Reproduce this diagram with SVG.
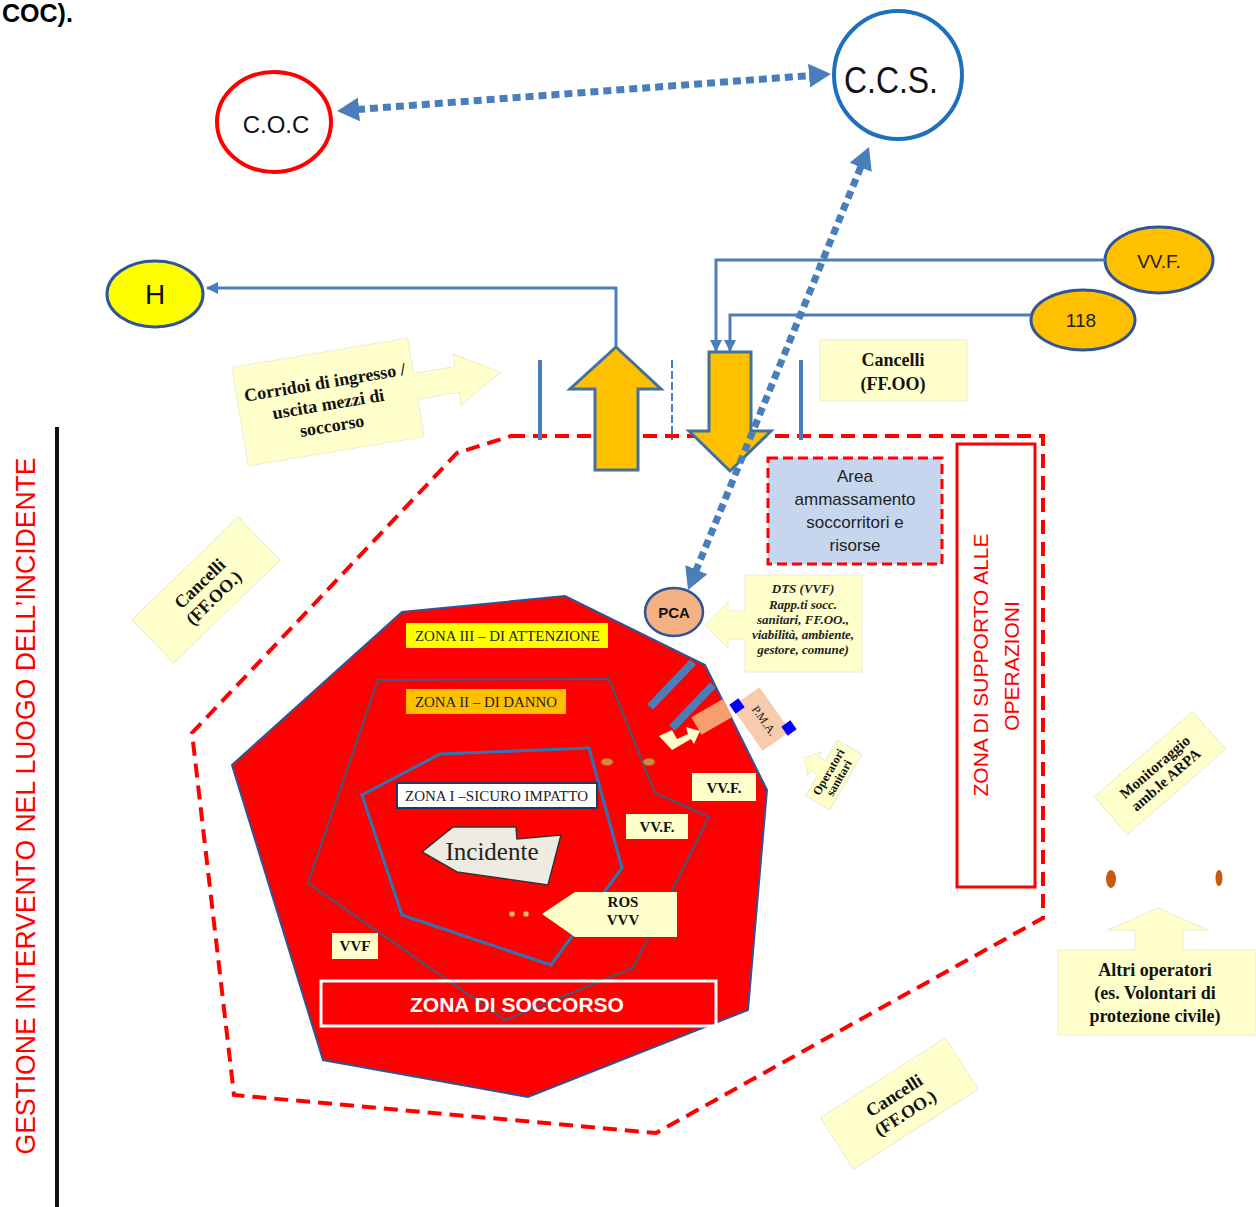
<svg xmlns="http://www.w3.org/2000/svg" width="1256" height="1207" viewBox="0 0 1256 1207">
<defs>
<style>
.sans{font-family:"Liberation Sans",Arial,sans-serif}
.serif{font-family:"Liberation Serif","Times New Roman",serif}
.pale{fill:#ffffcc;stroke:#ecebd0;stroke-width:1}
.lbl{font-family:"Liberation Serif","Times New Roman",serif;font-weight:bold;fill:#111;text-anchor:middle}
.zl{font-family:"Liberation Serif","Times New Roman",serif;font-size:14px;fill:#222}
.dot{fill:none;stroke:#4a7ebb;stroke-width:7;stroke-dasharray:8 5}
.wire{fill:none;stroke:#4a7ebb;stroke-width:3}
.bigarrow{fill:#ffc000;stroke:#41719c;stroke-width:3}
.node{stroke:#2f5597;stroke-width:3}
</style>
<marker id="dh" markerUnits="userSpaceOnUse" markerWidth="24" markerHeight="26" refX="2" refY="12" orient="auto-start-reverse"><path d="M0,0 L22,12 L0,24 z" fill="#4a7ebb"/></marker>
<marker id="sh" markerUnits="userSpaceOnUse" markerWidth="14" markerHeight="14" refX="11" refY="6" orient="auto"><path d="M0,0 L12,6 L0,12 z" fill="#4a7ebb"/></marker>
</defs>
<rect width="1256" height="1207" fill="#fff"/>

<text class="sans" x="2" y="22" font-size="25" font-weight="bold" fill="#000">COC).</text>

<g id="titolo-verticale">
<line x1="57" y1="427" x2="57" y2="1207" stroke="#111" stroke-width="4"/>
<text class="sans" transform="translate(35,806) rotate(-90)" text-anchor="middle" font-size="27" fill="#ff0000" textLength="697" lengthAdjust="spacingAndGlyphs">GESTIONE INTERVENTO NEL LUOGO DELL’INCIDENTE</text>
</g>

<g id="perimetro">
<polygon points="511,436 1043,436 1043,918 656,1133 234,1095 192,733 457,453" fill="none" stroke="#ff0000" stroke-width="4" stroke-dasharray="14 8"/>
</g>

<g id="zona-supporto">
<rect x="957" y="444" width="78" height="443" fill="#fff" stroke="#ff0000" stroke-width="3"/>
<text class="sans" transform="translate(988,665) rotate(-90)" text-anchor="middle" font-size="21" fill="#ff0000">ZONA DI SUPPORTO ALLE</text>
<text class="sans" transform="translate(1019,666) rotate(-90)" text-anchor="middle" font-size="21" fill="#ff0000">OPERAZIONI</text>
</g>

<g id="area-ammassamento">
<rect x="768" y="458" width="174" height="106" fill="#c6d6ee" stroke="#ff0000" stroke-width="3" stroke-dasharray="10 5"/>
<g class="sans" font-size="17" fill="#222" text-anchor="middle">
<text x="855" y="482">Area</text>
<text x="855" y="505">ammassamento</text>
<text x="855" y="528">soccorritori e</text>
<text x="855" y="551">risorse</text>
</g>
</g>

<g id="varchi">
<line x1="540" y1="360" x2="540" y2="440" stroke="#4a7ebb" stroke-width="4"/>
<line x1="801" y1="360" x2="801" y2="440" stroke="#4a7ebb" stroke-width="4"/>
<line x1="672" y1="360" x2="672" y2="440" stroke="#4a7ebb" stroke-width="2" stroke-dasharray="8 3"/>
</g>

<g id="freccia-uscita">
<polygon class="bigarrow" points="616,347 661,389 638,389 638,470 595,470 595,389 570,389"/>
</g>
<g id="freccia-ingresso">
<polygon class="bigarrow" points="709,352 751,352 751,431 771,431 730,471 689,431 709,431"/>
</g>

<g id="zona-III">
<polygon points="232,765 402,612 565,596 705,665 767,790 748,1010 528,1097 323,1060" fill="#ff0000" stroke="#2f5597" stroke-width="2"/>
</g>
<g id="zona-II">
<polygon points="378,680 609,679 655,793 709,817 633,968 505,1020 308,883" fill="none" stroke="#41597c" stroke-width="2"/>
</g>
<g id="zona-I">
<polygon points="440,754 589,748 622,868 551,965 402,915 362,795" fill="none" stroke="#2e75b6" stroke-width="3"/>
</g>

<g id="label-zona-III">
<rect x="406" y="623" width="202" height="25" fill="#ffff00"/>
<text class="zl" x="415" y="641" textLength="185" lengthAdjust="spacingAndGlyphs">ZONA III – DI ATTENZIONE</text>
</g>
<g id="label-zona-II">
<rect x="406" y="689" width="160" height="25" fill="#ffc000"/>
<text class="zl" x="415" y="707" textLength="142" lengthAdjust="spacingAndGlyphs">ZONA II – DI DANNO</text>
</g>
<g id="label-zona-I">
<rect x="397" y="783" width="200" height="25" fill="#fff" stroke="#1f3864" stroke-width="2"/>
<text class="zl" x="405" y="801" textLength="183" lengthAdjust="spacingAndGlyphs">ZONA I –SICURO IMPATTO</text>
</g>

<g id="accessi-pma">
<line x1="650" y1="707" x2="693" y2="662" stroke="#4a7ebb" stroke-width="8"/>
<line x1="672" y1="728" x2="713" y2="685" stroke="#4a7ebb" stroke-width="8"/>
<rect x="-18" y="-10" width="36" height="20" fill="#f79e6f" transform="translate(712,717) rotate(-30)"/>
<polygon points="659,736 672,730 677,739 688,734 686,727 700,731 694,744 691,739 672,750" fill="#ffffcc"/>
</g>

<g id="pma">
<rect x="-27" y="-17" width="54" height="34" fill="#f8cbad" transform="translate(761,719) rotate(55)"/>
<text class="serif" transform="translate(761,723) rotate(55)" text-anchor="middle" font-size="12" fill="#222">P.M.A.</text>
<rect x="-5.5" y="-5.5" width="11" height="11" fill="#0000ff" transform="translate(737,706) rotate(55)"/>
<rect x="-5.5" y="-5.5" width="11" height="11" fill="#0000ff" transform="translate(789,728) rotate(55)"/>
</g>

<g id="operatori-sanitari" transform="translate(832,774) rotate(-60)">
<path class="pale" d="M-32,-12 L-8,-12 L-8,-20 L-14,-20 L0,-32 L14,-20 L8,-20 L8,-12 L32,-12 L32,16 L-32,16 z"/>
<text class="lbl" x="0" y="0" font-size="12">Operatori</text>
<text class="lbl" x="0" y="12" font-size="12">sanitari</text>
</g>

<g id="punti">
<ellipse cx="607" cy="762" rx="6" ry="3.5" fill="#d08a4a" stroke="#c55a11" stroke-width="1"/>
<ellipse cx="649" cy="762" rx="6" ry="3.5" fill="#d08a4a" stroke="#c55a11" stroke-width="1"/>
<circle cx="512" cy="914" r="3" fill="#f0b070" stroke="#c55a11" stroke-width="1"/>
<circle cx="526" cy="914" r="3" fill="#f0b070" stroke="#c55a11" stroke-width="1"/>
<ellipse cx="1111" cy="879" rx="5" ry="9" fill="#c55a11"/>
<ellipse cx="1219" cy="878" rx="3.5" ry="8" fill="#c55a11"/>
</g>

<g id="incidente">
<polygon points="422,852 453,827 516,827 517,839 561,835 548,885 457,872" fill="#eeece1" stroke="#333" stroke-width="1.5"/>
<text class="serif" x="492" y="860" text-anchor="middle" font-size="25" fill="#222">Incidente</text>
</g>

<g id="ros">
<polygon points="542,914 575,892 677,892 677,937 575,937" fill="#ffffcc"/>
<text class="lbl" x="623" y="907" font-size="15">ROS</text>
<text class="lbl" x="623" y="925" font-size="15">VVV</text>
</g>

<g id="vvf-1">
<rect x="332" y="933" width="46" height="26" fill="#ffffcc"/>
<text class="lbl" x="355" y="951" font-size="15">VVF</text>
</g>
<g id="vvf-2">
<rect x="626" y="814" width="62" height="25" fill="#ffffcc"/>
<text class="lbl" x="657" y="832" font-size="15">VV.F.</text>
</g>
<g id="vvf-3">
<rect x="692" y="773" width="64" height="28" fill="#ffffcc"/>
<text class="lbl" x="724" y="793" font-size="15">VV.F.</text>
</g>

<g id="zona-soccorso">
<rect x="321" y="981" width="395" height="45" fill="none" stroke="#fff" stroke-width="3"/>
<text class="sans" x="517" y="1012" text-anchor="middle" font-size="21" font-weight="bold" fill="#fff">ZONA DI SOCCORSO</text>
</g>

<g id="dts">
<path class="pale" d="M745,575 L862,575 L862,672 L745,672 L745,639 L728,639 L728,648 L705,625 L728,602 L728,611 L745,611 z"/>
<g class="serif" font-size="13" font-weight="bold" font-style="italic" fill="#222" text-anchor="middle">
<text x="803" y="593">DTS (VVF)</text>
<text x="803" y="609">Rapp.ti socc.</text>
<text x="803" y="624">sanitari, FF.OO.,</text>
<text x="803" y="639">viabilità, ambiente,</text>
<text x="803" y="654">gestore, comune)</text>
</g>
</g>

<g id="pca">
<ellipse cx="674" cy="612" rx="29" ry="24" fill="#f4b183" stroke="#2f5597" stroke-width="2.5"/>
<text class="sans" x="674" y="618" text-anchor="middle" font-size="15" font-weight="bold" fill="#111">PCA</text>
</g>

<g id="cancelli-alto">
<rect class="pale" x="820" y="340" width="147" height="61"/>
<text class="lbl" x="893" y="366" font-size="18">Cancelli</text>
<text class="lbl" x="893" y="390" font-size="18">(FF.OO)</text>
</g>

<g id="corridoi" transform="translate(328,402) rotate(-9.5)">
<path class="pale" d="M-89,-50 L89,-50 L89,-14 L131,-14 L131,-27 L175,-1 L131,25 L131,12 L89,12 L89,50 L-89,50 z"/>
<text class="lbl" x="0" y="-14" font-size="18">Corridoi  di ingresso /</text>
<text class="lbl" x="0" y="8" font-size="18">uscita mezzi di</text>
<text class="lbl" x="0" y="30" font-size="18">soccorso</text>
</g>

<g id="cancelli-sinistra" transform="translate(206,590) rotate(-44)">
<rect class="pale" x="-74" y="-30" width="148" height="60"/>
<text class="lbl" x="0" y="-3" font-size="18">Cancelli</text>
<text class="lbl" x="0" y="17" font-size="18">(FF.OO.)</text>
</g>

<g id="cancelli-basso" transform="translate(899,1103) rotate(-32.6)">
<rect class="pale" x="-74" y="-30" width="148" height="61"/>
<text class="lbl" x="0" y="-3" font-size="18">Cancelli</text>
<text class="lbl" x="0" y="18" font-size="18">(FF.OO.)</text>
</g>

<g id="monitoraggio" transform="translate(1160,773) rotate(-41)">
<rect class="pale" x="-65" y="-25" width="130" height="50"/>
<text class="lbl" x="0" y="-3" font-size="15">Monitoraggio</text>
<text class="lbl" x="0" y="14" font-size="15">amb.le ARPA</text>
</g>

<g id="altri-operatori">
<path class="pale" d="M1058,950 L1135,950 L1135,930 L1108,930 L1158,908 L1208,930 L1183,930 L1183,950 L1256,950 L1256,1035 L1058,1035 z"/>
<text class="lbl" x="1155" y="976" font-size="18">Altri  operatori</text>
<text class="lbl" x="1155" y="999" font-size="18">(es. Volontari di</text>
<text class="lbl" x="1155" y="1022" font-size="18">protezione civile)</text>
</g>

<g id="coc">
<ellipse cx="274" cy="122" rx="57" ry="50" fill="#fff" stroke="#ff0000" stroke-width="4"/>
<text class="sans" x="276" y="133" text-anchor="middle" font-size="24" fill="#111">C.O.C</text>
</g>

<g id="ccs">
<circle cx="898" cy="75" r="64" fill="#fff" stroke="#1f6fbf" stroke-width="4"/>
<text class="sans" x="891" y="93" text-anchor="middle" font-size="37" fill="#111" textLength="94" lengthAdjust="spacingAndGlyphs">C.C.S.</text>
</g>

<g id="h">
<ellipse cx="155" cy="294" rx="48" ry="33" fill="#ffff00" class="node"/>
<text class="sans" x="155" y="304" text-anchor="middle" font-size="28" fill="#111">H</text>
</g>

<g id="vvf">
<ellipse cx="1159" cy="260" rx="54" ry="33" fill="#ffc000" class="node"/>
<text class="sans" x="1159" y="268" text-anchor="middle" font-size="19" fill="#222">VV.F.</text>
</g>

<g id="n118">
<ellipse cx="1083" cy="320" rx="52" ry="30" fill="#ffc000" class="node"/>
<text class="sans" x="1081" y="327" text-anchor="middle" font-size="19" fill="#222">118</text>
</g>

<g id="connettori">
<polyline class="wire" points="616,347 616,288 207,288" marker-end="url(#sh)"/>
<polyline class="wire" points="1105,260 716,260 716,351" marker-end="url(#sh)"/>
<polyline class="wire" points="1031,315 730,315 730,351" marker-end="url(#sh)"/>
<line class="dot" x1="357" y1="109.5" x2="811" y2="75.5" marker-start="url(#dh)" marker-end="url(#dh)"/>
<line class="dot" x1="695.6" y1="571.5" x2="861.4" y2="165.5" marker-start="url(#dh)" marker-end="url(#dh)"/>
</g>
</svg>
